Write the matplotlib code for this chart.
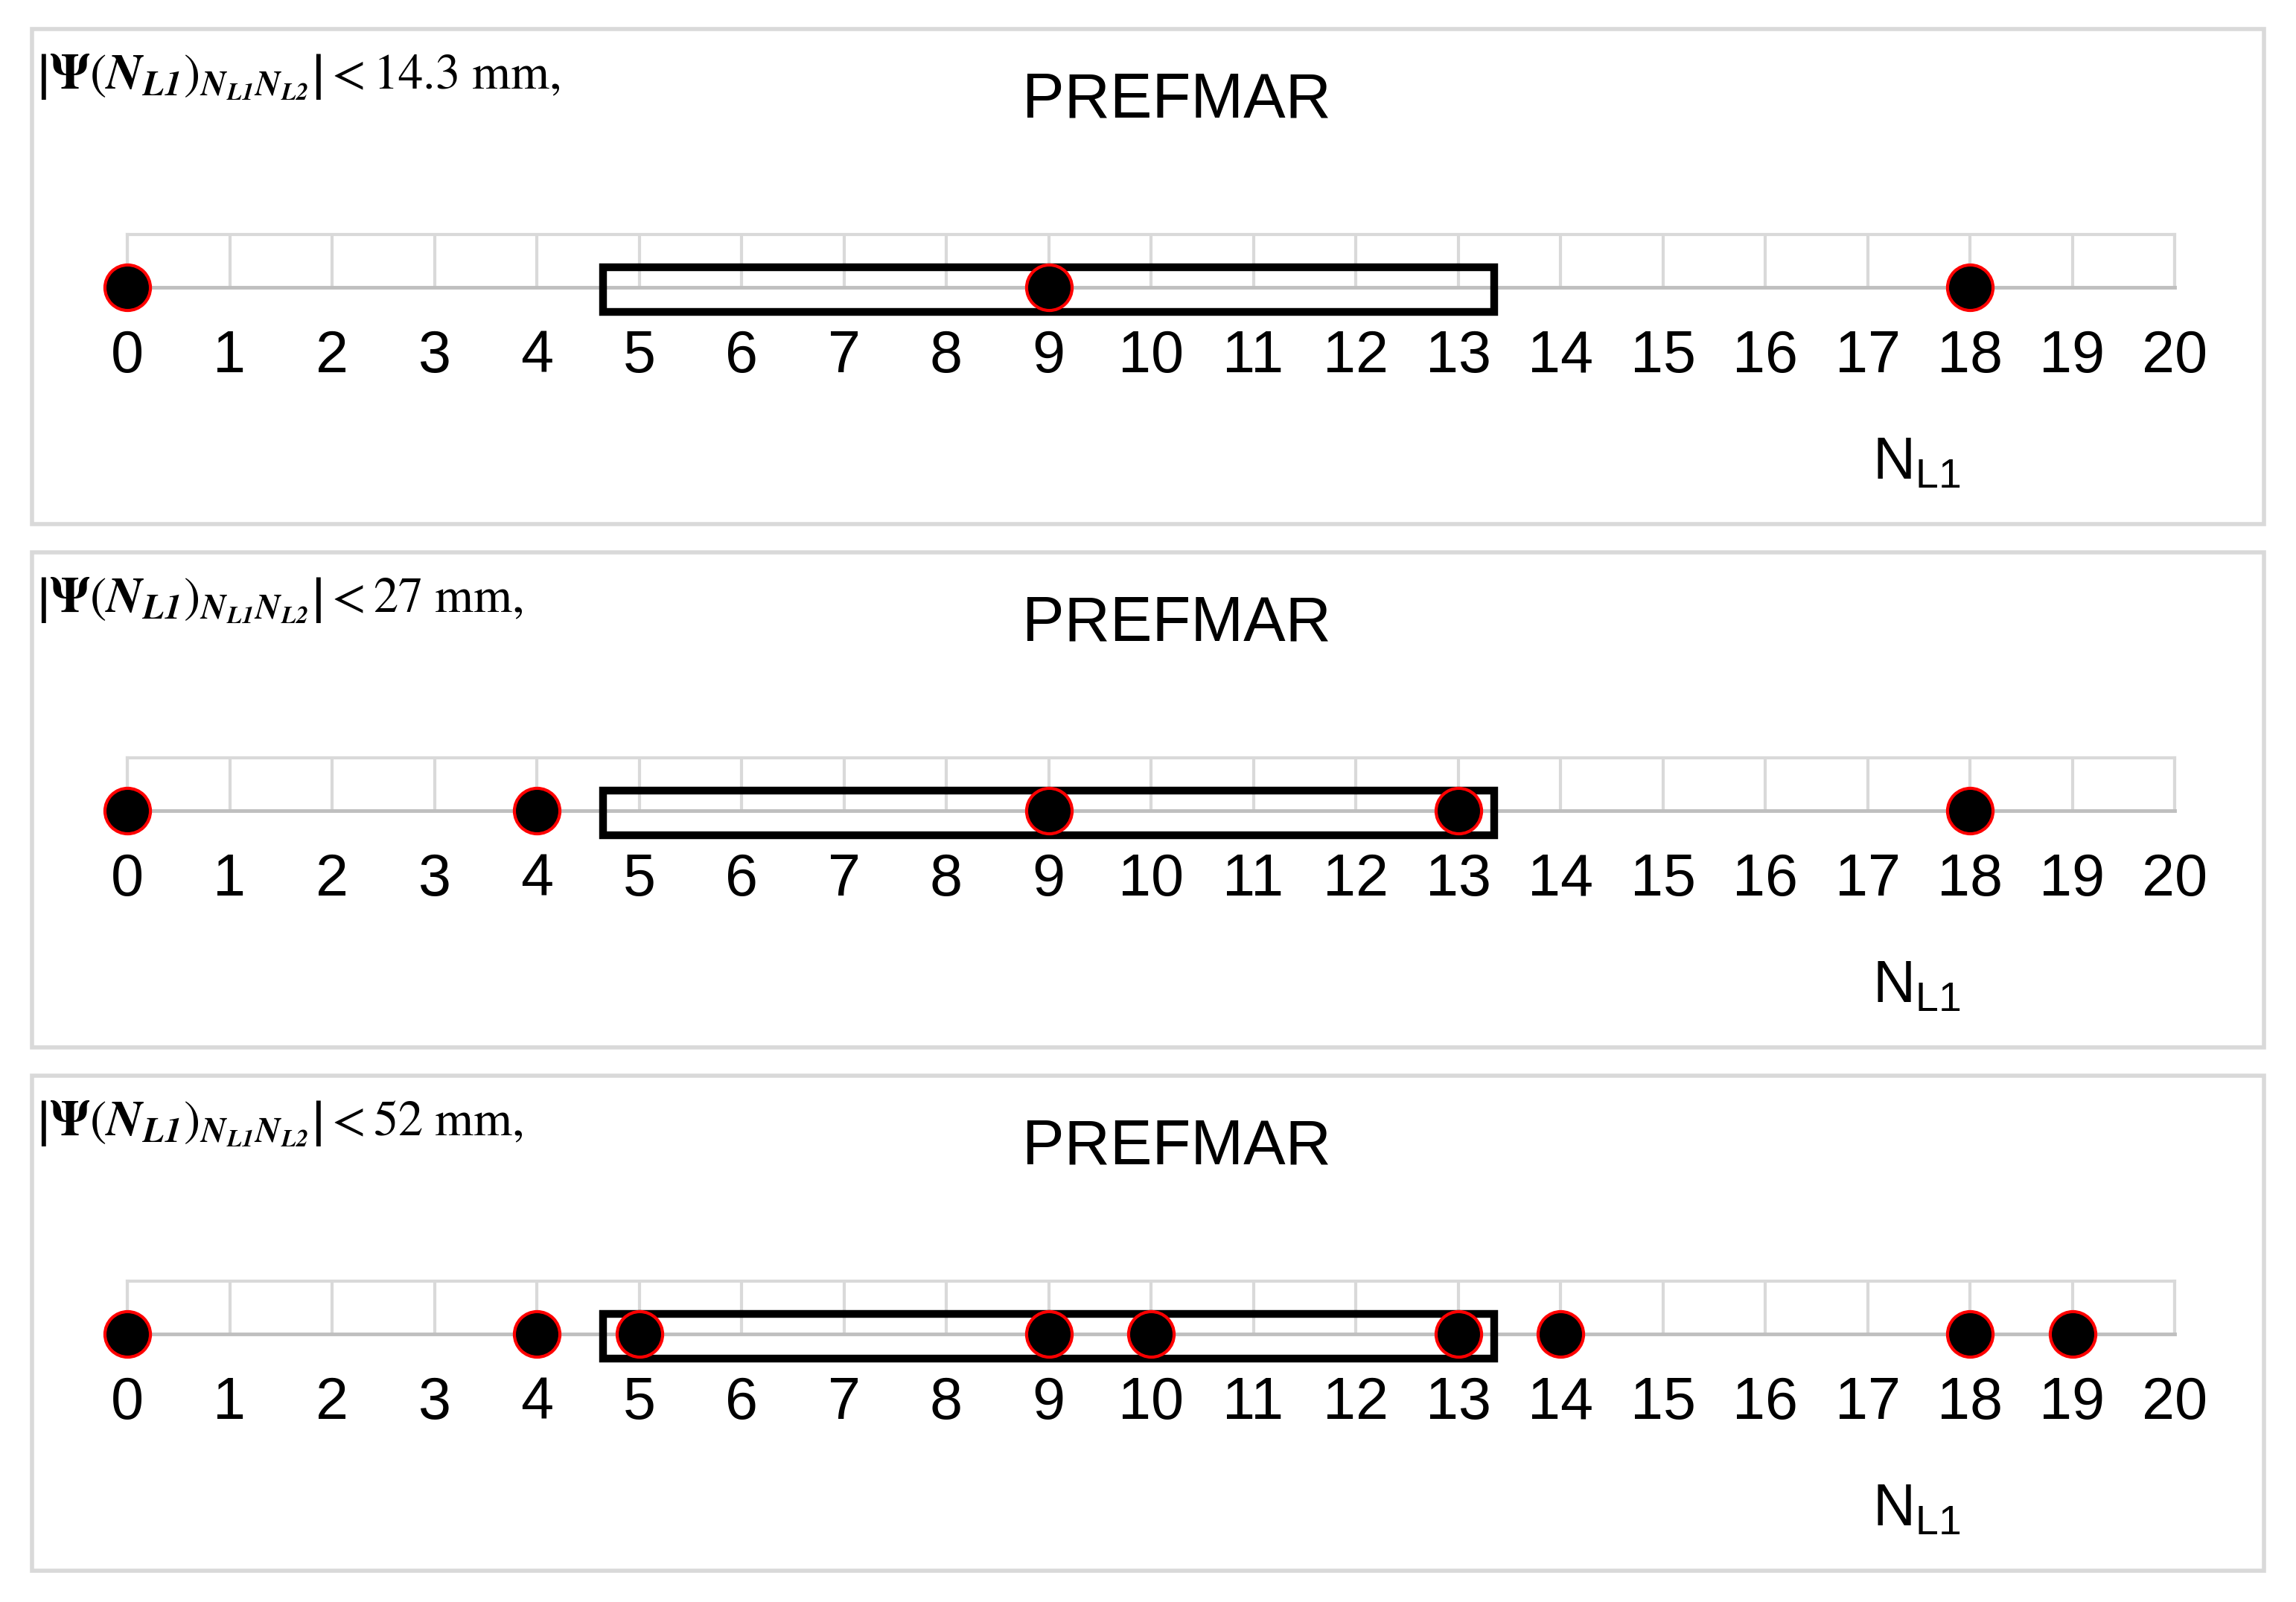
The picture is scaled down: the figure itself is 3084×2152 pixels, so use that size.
import matplotlib
matplotlib.use("Agg")
import matplotlib.pyplot as plt
from matplotlib.patches import Rectangle

# picture size in pixels
W, H = 3084, 2152
DPI = 100

# data
thresholds = ["14.3", "27", "52"]
points_143 = [0, 9, 18]
points_27 = [0, 4, 9, 13, 18]
points_52 = [0, 4, 5, 9, 10, 13, 14, 18, 19]
box_range = [4.65, 13.35]
x_ticks = list(range(0, 21))

plt.rcParams["font.family"] = ["Liberation Sans", "DejaVu Sans"]
plt.rcParams["mathtext.fontset"] = "stix"

fig = plt.figure(figsize=(W / DPI, H / DPI), dpi=DPI)


def fx(px):
    return px / W


def fy(py):
    return 1 - py / H


panel_step = 703
series = [points_143, points_27, points_52]

for i, (thr, pts) in enumerate(zip(thresholds, series)):
    d = i * panel_step

    # chart area border
    fig.patches.append(Rectangle((fx(43), fy(704 + d)), fx(3041 - 43), (704 - 39) / H,
                                 transform=fig.transFigure, fill=False,
                                 edgecolor="#D9D9D9", lw=4))

    ax = fig.add_axes([fx(171), fy(386 + d), fx(2921 - 171), 71 / H])
    ax.set_facecolor("none")
    ax.set_xlim(0, 20)
    ax.set_ylim(0, 1)
    ax.set_xticks(x_ticks)
    ax.set_yticks([])
    ax.tick_params(axis="x", length=0, pad=40, labelsize=57)
    ax.grid(axis="x", color="#D9D9D9", lw=3)
    for s in ["left", "right", "top"]:
        ax.spines[s].set_color("#D9D9D9")
        ax.spines[s].set_linewidth(3)
    ax.spines["bottom"].set_color("#BFBFBF")
    ax.spines["bottom"].set_linewidth(3.5)
    ax.spines["bottom"].set_zorder(2.5)

    ax.add_patch(Rectangle((box_range[0], -0.46), box_range[1] - box_range[0], 0.84,
                           fill=False, edgecolor="black", lw=7.5, clip_on=False, zorder=3))
    ax.plot(pts, [0] * len(pts), "o", ms=44, mfc="black", mec="red", mew=3,
            clip_on=False, zorder=4)

    fig.text(fx(1580), fy(135 + d), "PREFMAR", ha="center", va="center", fontsize=61)
    fig.text(fx(2515), fy(643 + d), r"$\mathregular{N_{L1}}$", ha="left",
             va="baseline", fontsize=57)
    formula = (r"$\left|\mathbf{\Psi}(\mathbfit{N}_{\mathbfit{L1}})"
               r"_{\mathbfit{N}_{\mathbfit{L1}}\mathbfit{N}_{\mathbfit{L2}}}\right| < "
               + thr + r"\ \mathrm{mm},$")
    fig.text(fx(49), fy(104 + d), formula, ha="left", va="center", fontsize=48)

fig.savefig("out.png", dpi=DPI)
